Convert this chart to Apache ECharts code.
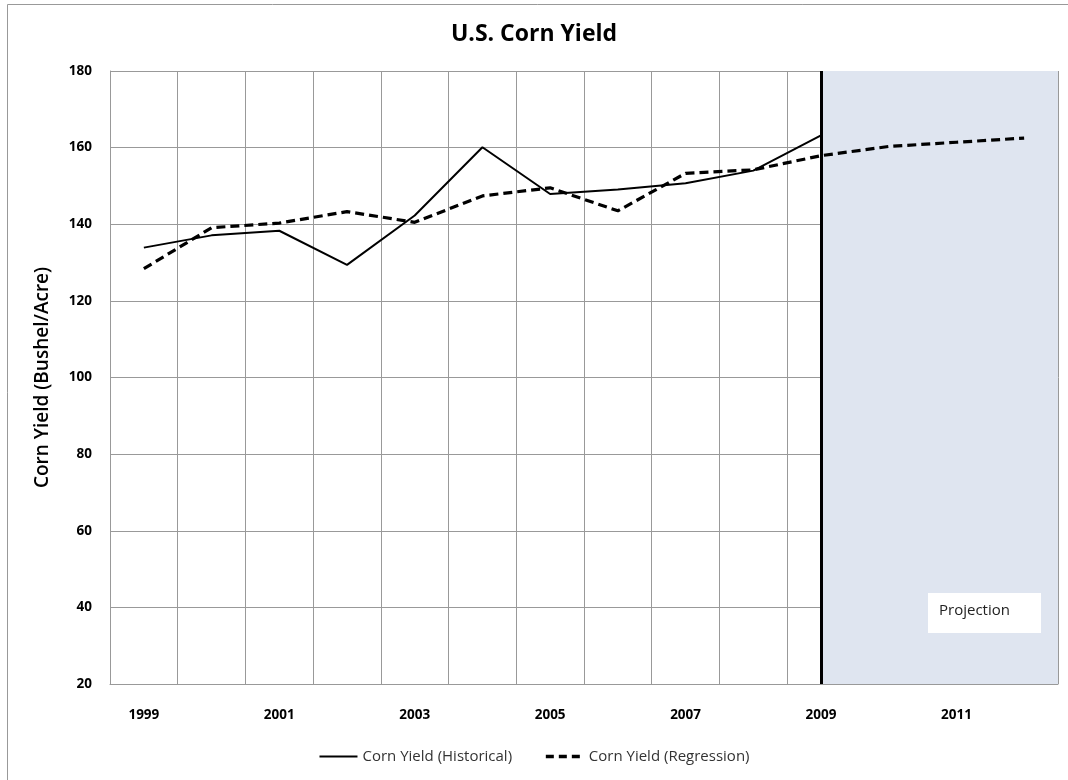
<!DOCTYPE html>
<html>
<head>
<meta charset="utf-8">
<script src="https://cdn.jsdelivr.net/npm/echarts@6/dist/echarts.min.js"></script>
<style>html,body{margin:0;padding:0;background:#fff;}#c{width:1068px;height:780px;}</style>
</head>
<body>
<div id="c"></div>
<script>
var years = ['1999','2000','2001','2002','2003','2004','2005','2006','2007','2008','2009','2010','2011','2012'];
var historical = [133.9, 137.1, 138.3, 129.4, 142.3, 160.1, 147.9, 149.1, 150.7, 154.0, 163.2, null, null, null];
var regression = [128.4, 139.1, 140.3, 143.3, 140.5, 147.4, 149.5, 143.5, 153.3, 154.2, 157.9, 160.3, 161.4, 162.5];
var projectionStart = '2009';
var projectionEnd = '2012';
var yTicks = {min: 20, max: 180, interval: 20};

var chart = echarts.init(document.getElementById('c'));
var font = "'Open Sans', 'Liberation Sans', sans-serif";
chart.setOption({
  animation: false,
  backgroundColor: '#fff',
  title: {
    text: 'U.S. Corn Yield', left: 'center', top: 18,
    textStyle: {fontFamily: font, fontSize: 23, fontWeight: 'bold', color: '#000'}
  },
  grid: {left: 110, right: 10, top: 71, bottom: 96, containLabel: false},
  legend: {
    bottom: 11, left: 'center', itemWidth: 38, itemHeight: 10, itemGap: 32,
    itemStyle: {opacity: 0},
    textStyle: {fontFamily: font, fontSize: 15, color: '#333'},
    data: [
      {name: 'Corn Yield (Historical)', lineStyle: {width: 2}},
      {name: 'Corn Yield (Regression)', lineStyle: {width: 3.5, type: [8, 5]}}
    ]
  },
  xAxis: {
    type: 'category', data: years, boundaryGap: true,
    axisLine: {show: true, lineStyle: {color: '#999', width: 1}},
    axisTick: {show: false},
    axisLabel: {interval: 1, margin: 24, color: '#000', fontFamily: font, fontSize: 13.5, fontWeight: 'bold'},
    splitLine: {show: true, interval: 0, lineStyle: {color: '#999', width: 1}}
  },
  yAxis: {
    type: 'value', min: yTicks.min, max: yTicks.max, interval: yTicks.interval,
    name: 'Corn Yield (Bushel/Acre)', nameLocation: 'middle', nameGap: 58,
    nameTextStyle: {fontFamily: font, fontSize: 19, fontWeight: 600, color: '#000'},
    axisLine: {show: true, lineStyle: {color: '#999', width: 1}},
    axisTick: {show: false},
    axisLabel: {margin: 18, color: '#000', fontFamily: font, fontSize: 13.5, fontWeight: 'bold'},
    splitLine: {show: true, lineStyle: {color: '#999', width: 1}}
  },
  graphic: [
    {type: 'line', shape: {x1: 7.5, y1: 4.5, x2: 1068, y2: 4.5}, style: {stroke: '#999', lineWidth: 1}, z: 10},
    {type: 'line', shape: {x1: 7.5, y1: 4.5, x2: 7.5, y2: 780}, style: {stroke: '#999', lineWidth: 1}, z: 10},
    {type: 'rect', shape: {x: 928, y: 593, width: 113, height: 40}, style: {fill: '#fff'}, z: 10},
    {type: 'text', left: 939, top: 603, style: {text: 'Projection', fontFamily: font, fontSize: 15, fill: '#222'}, z: 11}
  ],
  series: [
    {
      type: 'custom', name: 'proj', silent: true, z: 0,
      data: [[projectionStart, yTicks.max, projectionEnd, yTicks.min]],
      renderItem: function (params, api) {
        var p0 = api.coord([api.value(0), api.value(1)]);
        var p1 = api.coord([api.value(2), api.value(3)]);
        var band = api.size([1, 0])[0];
        return {type: 'rect', shape: {x: p0[0], y: p0[1], width: p1[0] + band / 2 - p0[0], height: p1[1] - p0[1]},
                style: {fill: '#dfe5f0'}, z2: 0};
      },
      encode: {x: [0, 2], y: [1, 3]}
    },
    {
      name: 'Corn Yield (Historical)', type: 'line', data: historical, symbol: 'none', z: 5,
      lineStyle: {color: '#000', width: 2}, itemStyle: {color: '#000'},
      markLine: {
        silent: true, symbol: 'none', label: {show: false},
        lineStyle: {color: '#000', width: 3, type: 'solid'},
        data: [{xAxis: projectionStart}]
      }
    },
    {
      name: 'Corn Yield (Regression)', type: 'line', data: regression, symbol: 'none', z: 5,
      lineStyle: {color: '#000', width: 3.2, type: [9, 5]}, itemStyle: {color: '#000'}
    }
  ]
});
</script>
</body>
</html>
